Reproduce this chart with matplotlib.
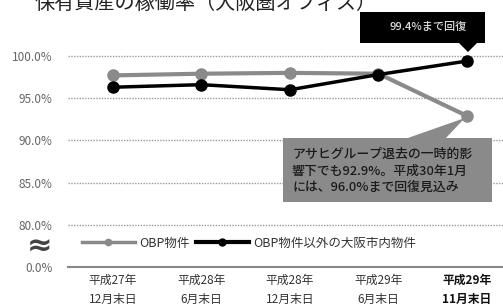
import matplotlib
matplotlib.use("Agg")
import matplotlib.pyplot as plt
from matplotlib.lines import Line2D
from matplotlib.patches import Polygon

plt.rcParams['font.family'] = ['Noto Sans CJK JP', 'DejaVu Sans']

# data
periods = ["平成27年\n12月末日", "平成28年\n6月末日", "平成28年\n12月末日", "平成29年\n6月末日", "平成29年\n11月末日"]
obp = [97.7, 97.9, 98.0, 97.9, 92.9]
other = [96.3, 96.6, 96.0, 97.8, 99.4]
ytick_vals = [75, 80, 85, 90, 95, 100]
ytick_labels = ["0.0%", "80.0%", "85.0%", "90.0%", "95.0%", "100.0%"]

GRAY = "#8a8a8a"
BLACK = "#000000"

fig = plt.figure(figsize=(5.03, 3.05), dpi=100)
ax = fig.add_axes([68 / 503, 0.1246, 1 - 68 / 503, 0.7472])

x = list(range(len(periods)))
ax.plot(x, obp, color=GRAY, lw=3, marker="o", ms=8, zorder=3)
ax.plot(x, other, color=BLACK, lw=2.5, marker="o", ms=8, zorder=4)

ax.set_xlim(-0.508, 4.407)
ax.set_ylim(75, 102)

for v in ytick_vals[1:]:
    ax.axhline(v, color="#999999", lw=1, ls=(0, (1, 1)), zorder=1)

for s in ["top", "right", "left"]:
    ax.spines[s].set_visible(False)
ax.spines["bottom"].set_color("#888888")
ax.spines["bottom"].set_linewidth(1.5)

ax.set_yticks(ytick_vals)
ax.set_yticklabels(ytick_labels, fontsize=8.5, color="#666666")
ax.tick_params(axis="y", length=0, pad=11)
ax.set_xticks(x)
ax.set_xticklabels(periods, fontsize=8.5, color="#333333", linespacing=1.6)
ax.get_xticklabels()[-1].set_fontweight("bold")
ax.get_xticklabels()[-1].set_color("#111111")
ax.tick_params(axis="x", length=0, pad=5)

# axis break mark
fig.text(40 / 503, 1 - 247 / 305, "≈", fontsize=22, fontweight="bold", color="#444444",
         ha="center", va="center", family="DejaVu Sans")

# legend
handles = [
    Line2D([], [], color=GRAY, lw=2.5, marker="o", ms=4.5),
    Line2D([], [], color=BLACK, lw=3, marker="o", ms=5),
]
ax.legend(handles, ["OBP物件", "OBP物件以外の大阪市内物件"], loc="center left",
          bbox_to_anchor=((82 - 68) / 435, (267 - 243) / 228), ncol=2, frameon=False,
          fontsize=9, handlelength=4.2, handletextpad=0.4, columnspacing=0.5,
          borderpad=0, borderaxespad=0, labelcolor="#333333")

fig.canvas.draw()
H = 305


def px(xp, yp):
    return (xp, H - yp)


# black callout
tip = ax.transData.transform((x[-1], other[-1]))
tri = Polygon([px(458, 42), px(478, 42), (tip[0] + 1, tip[1] + 9)], closed=True,
              transform=None, facecolor=BLACK, edgecolor="none", zorder=5)
fig.patches.append(tri)
fig.patches.append(Polygon([px(360, 12), px(485, 12), px(485, 43), px(360, 43)], closed=True,
                           transform=None, facecolor=BLACK, edgecolor="none", zorder=5))
fig.text(428 / 503, 1 - 27 / 305, "99.4%まで回復", fontsize=8, color="#dddddd",
         ha="center", va="center", zorder=6, fontweight="medium")

# gray callout
tip2 = ax.transData.transform((x[-1], obp[-1]))
fig.patches.append(Polygon([px(405, 139), px(445, 139), (tip2[0] - 2, tip2[1] - 2)], closed=True,
                           transform=None, facecolor=GRAY, edgecolor="none", zorder=5))
fig.patches.append(Polygon([px(283, 138), px(492, 138), px(492, 202), px(283, 202)], closed=True,
                           transform=None, facecolor=GRAY, edgecolor="none", zorder=5))
fig.text(292 / 503, 1 - 171 / 305,
         "アサヒグループ退去の一時的影\n響下でも92.9%。平成30年1月\nには、96.0%まで回復見込み",
         fontsize=9.3, color="#1a1a1a", ha="left", va="center", linespacing=1.4, zorder=6,
         fontweight="medium")

# title (cut off at top in the original)
fig.text(35 / 503, 1 - 9 / 305, "保有資産の稼働率（大阪圏オフィス）", fontsize=14.5,
         color="#222222", ha="left", va="baseline")

fig.savefig("out.png", dpi=100)
